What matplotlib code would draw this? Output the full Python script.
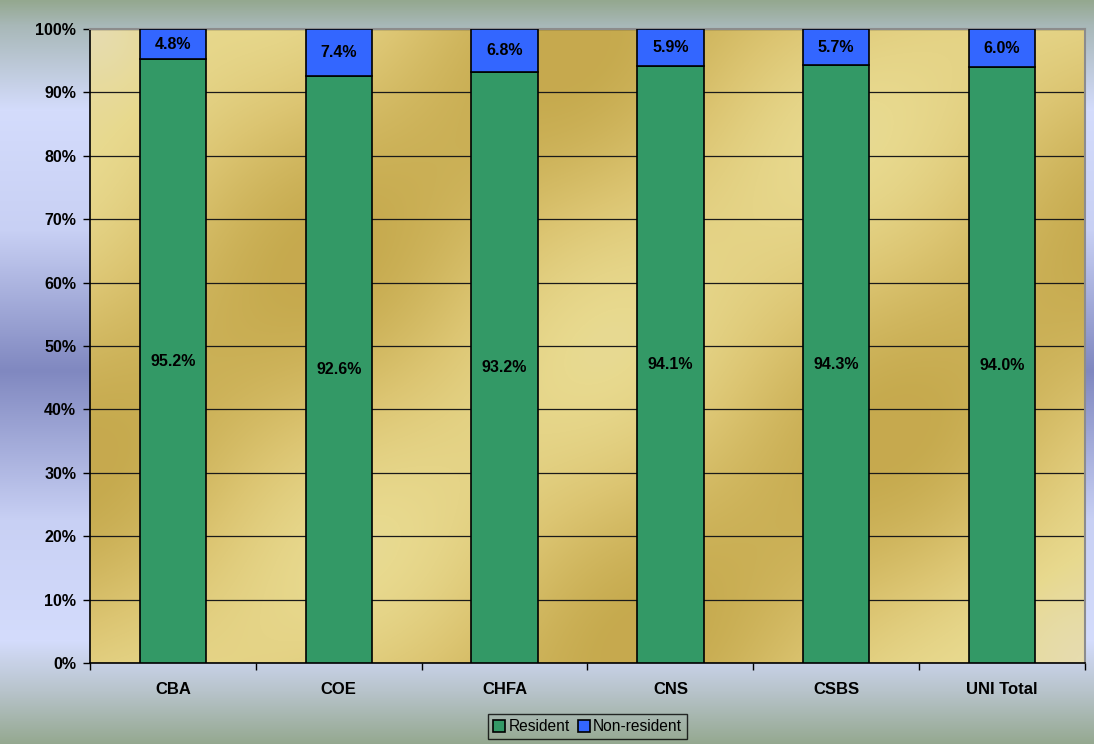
import numpy as np
import matplotlib
matplotlib.use("Agg")
import matplotlib.pyplot as plt
from matplotlib.colors import LinearSegmentedColormap

categories = ["CBA", "COE", "CHFA", "CNS", "CSBS", "UNI Total"]
resident = [95.2, 92.6, 93.2, 94.1, 94.3, 94.0]
nonresident = [4.8, 7.4, 6.8, 5.9, 5.7, 6.0]
yticks = [0, 10, 20, 30, 40, 50, 60, 70, 80, 90, 100]

plt.rcParams['font.family'] = ['Liberation Sans', 'DejaVu Sans']

W, H = 1094, 744
fig = plt.figure(figsize=(W / 100, H / 100), dpi=100)

# figure background gradient (vertical profile)
bg = fig.add_axes([0, 0, 1, 1], zorder=-10)
py = np.arange(H)
stops_y = [0, 25, 110, 230, 370, 520, 640, 690, 744]
cols = np.array([
    [0x94, 0xa8, 0x8f], [0xa8, 0xb8, 0xb8], [0xd4, 0xdc, 0xfc], [0xc8, 0xd0, 0xf4],
    [0x80, 0x88, 0xc0], [0xc8, 0xd0, 0xf4], [0xd4, 0xdc, 0xfc], [0xb8, 0xc4, 0xcc],
    [0x94, 0xa8, 0x8f]]) / 255
prof = np.stack([np.interp(py, stops_y, cols[:, k]) for k in range(3)], axis=1)
img = np.broadcast_to(prof[:, None, :], (H, 50, 3)).copy()
bg.imshow(img, aspect='auto', extent=[0, 1, 0, 1], origin='upper')
bg.set_axis_off()

left, right, top, bottom = 90, 1085, 29, 663
ax = fig.add_axes([left / W, 1 - bottom / H, (right - left) / W, (bottom - top) / H])

# gold diagonal texture in plot area (figure pixel coordinates)
pw, ph = right - left, bottom - top
gx = np.arange(pw)[None, :].astype(float) + left
gy = np.arange(ph)[:, None].astype(float) + top
u = 0.84 * gx + gy
v = gx - 0.84 * gy
tex = 0.5 + 0.45 * np.cos(2 * np.pi * (u - 530) / 650) + 0.08 * np.sin(2 * np.pi * v / 420)
pale = np.exp(-((gx - left) ** 2 + (gy - top) ** 2) / (2 * 60 ** 2)) \
    + np.exp(-((gx - right) ** 2 + (gy - bottom) ** 2) / (2 * 70 ** 2))
tex = np.clip(tex * (1 - pale) - 0.25 * pale, -0.25, 1)
gold = LinearSegmentedColormap.from_list(
    'gold', [(0, '#e6dcae'), (0.2, '#e8d98e'), (0.55, '#dcc572'), (1, '#c6aa4e')])
n = len(categories)
ax.imshow((tex + 0.25) / 1.25, cmap=gold, aspect='auto', extent=[-0.5, n - 0.5, 0, 100],
          origin='upper', zorder=0, interpolation='bilinear', vmin=0, vmax=1)

x = np.arange(n)
w = 0.4
b1 = ax.bar(x, resident, w, color='#339966', edgecolor='black', linewidth=1.2,
            label='Resident', zorder=3)
b2 = ax.bar(x, nonresident, w, bottom=resident, color='#3366FF', edgecolor='black',
            linewidth=1.2, label='Non-resident', zorder=3)
for i in range(n):
    ax.text(x[i], resident[i] / 2, f"{resident[i]:.1f}%", ha='center', va='center',
            fontsize=11.5, fontweight='bold', zorder=4)
    ax.text(x[i], resident[i] + nonresident[i] / 2, f"{nonresident[i]:.1f}%",
            ha='center', va='center', fontsize=11.5, fontweight='bold', zorder=4)

ax.set_xlim(-0.5, n - 0.5)
ax.set_ylim(0, 100)
ax.set_yticks(yticks)
ax.set_yticklabels([f"{v}%" for v in yticks], fontsize=11.5, fontweight='bold')
ax.yaxis.grid(True, color='#1a1a1a', linewidth=0.9, zorder=1)
ax.set_axisbelow(True)
ax.set_xticks(np.arange(-0.5, n, 1.0))
ax.set_xticklabels([])
ax.set_xticks(x, minor=True)
ax.set_xticklabels(categories, minor=True, fontsize=12, fontweight='bold')
ax.tick_params(axis='x', which='minor', length=0, pad=14)
ax.tick_params(axis='x', which='major', length=5, direction='out', width=1)
ax.tick_params(axis='y', length=5, direction='out', width=1, pad=5)
for s in ['left', 'bottom']:
    ax.spines[s].set_color('black')
    ax.spines[s].set_linewidth(1.2)
for s in ['top', 'right']:
    ax.spines[s].set_color('#8c8c8c')
    ax.spines[s].set_linewidth(1.5)

leg = fig.legend(handles=[b1, b2], labels=['Resident', 'Non-resident'], loc='center',
                 bbox_to_anchor=(587.5 / W, 1 - 726.5 / H), ncol=2, frameon=True,
                 fontsize=11.2, handlelength=0.8, handleheight=0.8, handletextpad=0.2,
                 columnspacing=0.5, borderpad=0.3, fancybox=False, borderaxespad=0)
leg.get_frame().set_edgecolor('black')
leg.get_frame().set_facecolor('none')
leg.get_frame().set_linewidth(1)

fig.savefig('out.png', dpi=100)
